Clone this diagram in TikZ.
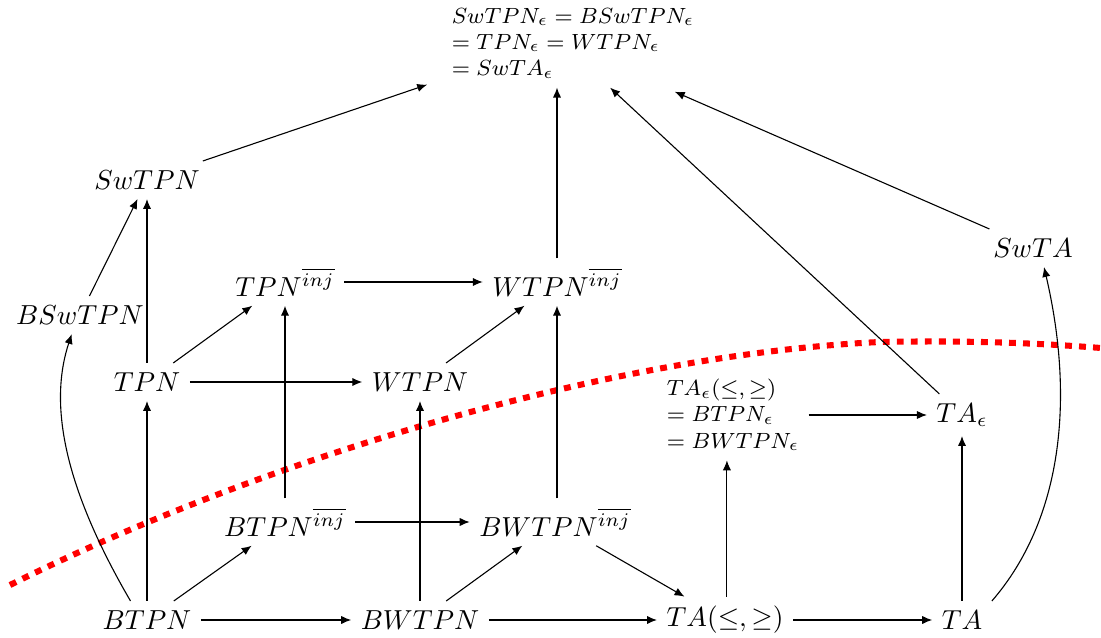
\documentclass[tikz,border=0pt]{standalone}
\usetikzlibrary{arrows.meta,calc}
\begin{document}
\begin{tikzpicture}[x=0.3636pt,y=-0.3636pt,
  lbl/.style={inner sep=3.3pt},
  small/.style={font=\footnotesize,align=left,inner sep=3.3pt},
  arr/.style={-{Latex[length=3.6pt,width=3pt]}},
  cut/.style={red,line width=2.2pt,dash pattern=on 2.5pt off 2.6pt}]
\useasboundingbox (0,0) rectangle (1101,638);
% nodes
\node[small] (top) at (573,43) {$SwTPN_\epsilon = BSwTPN_\epsilon$\\$= TPN_\epsilon = WTPN_\epsilon$\\$= SwTA_\epsilon$};
\node[lbl] (SwTPN) at (147,180) {$SwTPN$};
\node[lbl] (BSwTPN) at (80,315) {$BSwTPN$};
\node[lbl] (TPNi) at (285,282) {$TPN^{\overline{inj}}$};
\node[lbl] (WTPNi) at (557,282) {$WTPN^{\overline{inj}}$};
\node[lbl] (SwTA) at (1033,248) {$SwTA$};
\node[lbl] (TPN) at (147,382) {$TPN$};
\node[lbl] (WTPN) at (420,382) {$WTPN$};
\node[small] (TAel) at (733,415) {$TA_\epsilon(\leq,\geq)$\\$= BTPN_\epsilon$\\$= BWTPN_\epsilon$};
\node[lbl] (TAe) at (962,415) {$TA_\epsilon$};
\node[lbl] (BTPNi) at (285,522) {$BTPN^{\overline{inj}}$};
\node[lbl] (BWTPNi) at (555,522) {$BWTPN^{\overline{inj}}$};
\node[lbl] (BTPN) at (147,620) {$BTPN$};
\node[lbl] (BWTPN) at (420,620) {$BWTPN$};
\node[lbl] (TAle) at (725,620) {$TA(\leq,\geq)$};
\node[lbl] (TA) at (962,620) {$TA$};
% red cut line
\draw[cut] (10,585) .. controls (250,465) and (600,355) .. (880,342) .. controls (980,340) and (1050,344) .. (1101,348);
% edges
\draw[arr] (SwTPN) -- ([shift={(-15,-3)}]top.south west);
\draw[arr] (WTPNi) -- (WTPNi |- top.south);
\draw[arr] (TAe) -- ([xshift=13.5pt]top.south);
\draw[arr] (SwTA) -- ([xshift=37pt,yshift=-1.5pt]top.south);
\draw[arr] (BSwTPN) -- (SwTPN);
\draw[arr] (TPN) -- (SwTPN);
\draw[arr] (TPN) -- (TPNi);
\draw[arr] (TPN) -- (WTPN);
\draw[arr] (TPNi) -- (WTPNi);
\draw[arr] (WTPN) -- (WTPNi);
\draw[arr] (BTPN) -- (TPN);
\draw[arr] (BTPNi) -- (TPNi);
\draw[arr] (BTPNi) -- (BWTPNi);
\draw[arr] (BWTPNi.north -| WTPNi) -- (WTPNi);
\draw[arr] (BTPN) -- (BTPNi);
\draw[arr] (BTPN) -- (BWTPN);
\draw[arr] (BWTPN) -- (WTPN);
\draw[arr] (BWTPN) -- (BWTPNi);
\draw[arr] (BWTPN) -- (TAle);
\draw[arr] (BWTPNi) -- (TAle);
\draw[arr] ([xshift=0.7pt]TAle.north) -- ([xshift=0.7pt]TAle.north |- TAel.south);
\draw[arr] (TAle) -- (TA);
\draw[arr] (TAel) -- (TAe);
\draw[arr] (TA) -- (TAe);
\draw[arr] ([xshift=-6pt]BTPN.north) .. controls (60,480) and (50,400) .. ([xshift=-3pt]BSwTPN.south);
\draw[arr] (TA.north east) .. controls (1062,520) and (1075,400) .. ([xshift=4pt]SwTA.south);
\end{tikzpicture}
\end{document}
